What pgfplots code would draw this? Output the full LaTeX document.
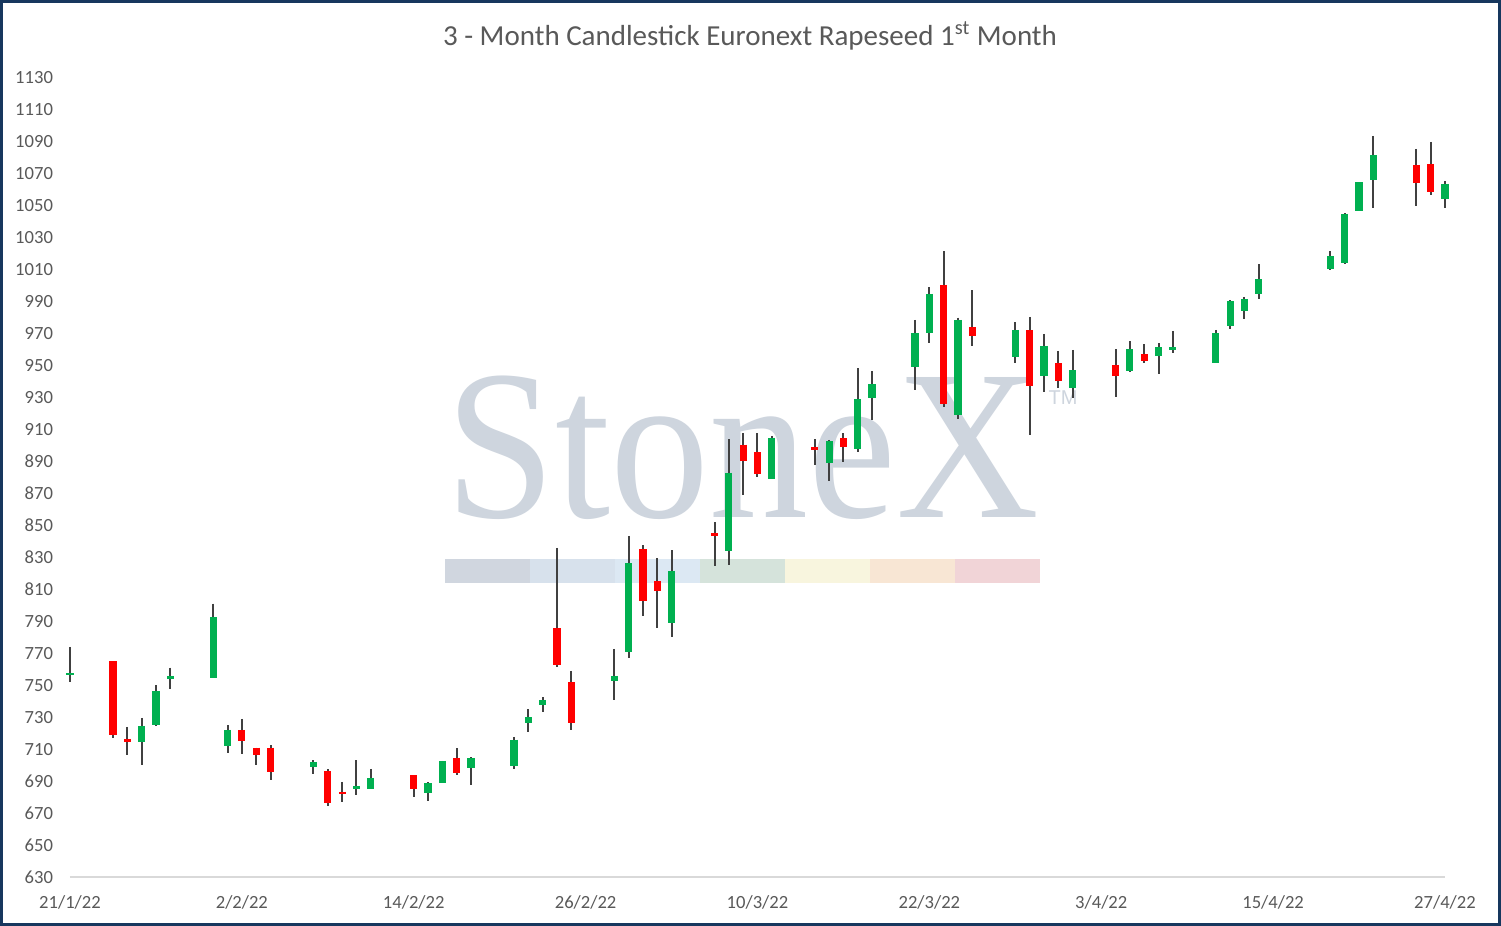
\documentclass[border=0pt]{standalone}
\usepackage{pgfplots}
\pgfplotsset{compat=1.18}
\usepackage{pgfplotstable}
\usepackage{fontspec}
\setmainfont{Carlito}
\newfontfamily\wmfont{Liberation Serif}
\newfontfamily\wmsans{Liberation Sans}
\definecolor{upc}{HTML}{00B050}
\definecolor{dnc}{HTML}{FF0000}
\definecolor{wick}{HTML}{404040}
\definecolor{labgray}{HTML}{595959}
\definecolor{axgray}{HTML}{D9D9D9}
\definecolor{border}{HTML}{17375E}
\definecolor{wmtext}{HTML}{CED5DE}
\definecolor{wma}{HTML}{D0D6DF}
\definecolor{wmb}{HTML}{D7E1EC}
\definecolor{wmc}{HTML}{DCE8F3}
\definecolor{wmd}{HTML}{D5E3DB}
\definecolor{wme}{HTML}{F8F5DE}
\definecolor{wmf}{HTML}{F8E6D4}
\definecolor{wmg}{HTML}{F1D4D7}

% days since 21/1/22: open high low close (rising candles)
\pgfplotstableread{
d O H L C
0 756.5 774 752 757.5
5 714.5 729.5 700 724.5
6 725 750 724.5 746.5
7 753.6 761 747.5 755.8
10 754.7 801 754.7 792.5
11 712 725 707.7 722
17 699 703 694.6 702
20 685.2 703 681.4 687
21 685.2 697.6 685.2 692
25 682.7 689.4 677.7 688.8
26 689 702.6 689 702.6
28 698.2 705 687.7 704.5
31 699.3 717.7 697.6 716
32 726.5 735 720.7 730
33 737.8 742.6 733.3 740.8
38 752.8 772.7 740.8 755.8
39 770.9 843.4 767.2 826.2
42 789 834.6 780.3 821.5
46 834.2 903.8 825.2 883.1
49 879.2 906 879.2 905
53 888.8 903.5 878 902.6
55 898 948.5 895.7 928.9
56 929.9 946.6 915.7 938.5
59 949.3 978.6 934.8 970.4
60 970.4 999.2 964.3 994.9
62 919.3 980 916.8 978.6
66 955.6 977.3 951.8 972.3
68 943.7 969.8 933.6 962.3
70 936.1 959.8 929.9 947
74 946.8 965.4 946.1 960.2
76 956.2 963.9 944.9 961.4
77 960 971.7 958 961.6
80 951.8 972.3 951.8 970.2
81 974.9 990.8 972.7 990.4
82 984.3 993 979.3 991.4
83 994.6 1013.6 991.8 1004
88 1010.7 1021.7 1010 1018.6
89 1014.4 1045.5 1013.7 1044.9
90 1047 1064.9 1047 1064.9
91 1066.4 1093.8 1048.8 1081.8
96 1054.4 1065.5 1048.8 1063.7
}\upTable

% falling candles
\pgfplotstableread{
d O H L C
3 765 765 717 719
4 716.5 724 706.5 714.5
12 722 729 707 715.3
13 711 711 700 706.5
14 711 712.6 691 696
18 696.3 697.3 674.6 676.5
19 683.5 689.5 677 682
24 693.8 693.8 680 685.2
27 704.5 710.7 694 695.3
34 785.6 836 761.5 762.6
35 751.8 759 722.3 726.5
40 835 837.5 793.4 802.8
41 815 829.6 786 809.2
45 845 852 824.7 843.5
47 900.5 907.6 869 890.4
48 895.7 907.6 880.4 882.3
52 899 904 888 897.2
54 904.7 907.8 889.8 898.8
61 1000.5 1021.7 924.3 926.1
63 973.9 997.3 962.3 968.7
67 972.3 980.5 906.7 937.4
69 951.4 959.2 936.1 940.6
73 950.4 960.4 930.5 943.7
75 957 963.5 951.8 953
94 1075.6 1085.6 1050 1064.5
95 1076.2 1090 1057 1058.8
}\dnTable

\begin{document}
\begin{tikzpicture}
\fill[white] (0,0) rectangle (750.5pt,463pt);
% watermark
\fill[wma] (222.5pt,171.5pt) rectangle ++(42.5pt,12pt);
\fill[wmb] (265pt,171.5pt) rectangle ++(42.5pt,12pt);
\fill[wmc] (307.5pt,171.5pt) rectangle ++(42.5pt,12pt);
\fill[wmd] (350pt,171.5pt) rectangle ++(42.5pt,12pt);
\fill[wme] (392.5pt,171.5pt) rectangle ++(42.5pt,12pt);
\fill[wmf] (435pt,171.5pt) rectangle ++(42.5pt,12pt);
\fill[wmg] (477.5pt,171.5pt) rectangle ++(42.5pt,12pt);
\node[anchor=base, text=wmtext, font=\wmfont\fontsize{99}{99}\selectfont, inner sep=0pt, yscale=1.08] at (371.25pt,204pt) {StoneX};
\node[text=wmtext, font=\wmsans\fontsize{10}{10}\selectfont] at (531.5pt,264pt) {TM};

\begin{axis}[
  at={(35pt,24.5pt)}, anchor=south west,
  scale only axis, width=687.5pt, height=399.5pt,
  xmin=0, xmax=96, ymin=630, ymax=1130,
  clip=false,
  axis x line*=bottom, axis y line*=left,
  x axis line style={draw=axgray, line width=1pt},
  y axis line style={draw=none},
  major tick length=0pt,
  xtick={0,12,...,96},
  xticklabels={21/1/22,2/2/22,14/2/22,26/2/22,10/3/22,22/3/22,3/4/22,15/4/22,27/4/22},
  ytick={630,650,...,1130},
  /pgf/number format/assume math mode=true,
  /pgf/number format/set thousands separator={},
  tick label style={font=\fontsize{9.3}{11}\selectfont, text=labgray},
  yticklabel style={anchor=east, xshift=-5pt},
  xticklabel style={yshift=-6pt},
]
\addplot[draw=none, no markers, forget plot,
  error bars/.cd, y dir=minus, y explicit, error mark=none,
  error bar style={draw=wick, line width=1pt}]
  table[x=d, y=H, y error minus expr=\thisrow{H}-\thisrow{L}] {\upTable};
\addplot[draw=none, no markers, forget plot,
  error bars/.cd, y dir=minus, y explicit, error mark=none,
  error bar style={draw=wick, line width=1pt}]
  table[x=d, y=H, y error minus expr=\thisrow{H}-\thisrow{L}] {\dnTable};
\addplot[draw=none, no markers, forget plot,
  error bars/.cd, y dir=minus, y explicit, error mark=none,
  error bar style={draw=upc, line width=3.6pt}]
  table[x=d, y=C, y error minus expr=\thisrow{C}-\thisrow{O}] {\upTable};
\addplot[draw=none, no markers, forget plot,
  error bars/.cd, y dir=minus, y explicit, error mark=none,
  error bar style={draw=dnc, line width=3.6pt}]
  table[x=d, y=O, y error minus expr=\thisrow{O}-\thisrow{C}] {\dnTable};
\end{axis}

\node[text=labgray, font=\fontsize{14.5}{16}\selectfont] at (375pt,445pt)
  {3 - Month Candlestick Euronext Rapeseed 1\textsuperscript{st} Month};
\draw[border, line width=1.5pt] (0.75pt,0.75pt) rectangle (749.75pt,462.25pt);
\end{tikzpicture}
\end{document}
